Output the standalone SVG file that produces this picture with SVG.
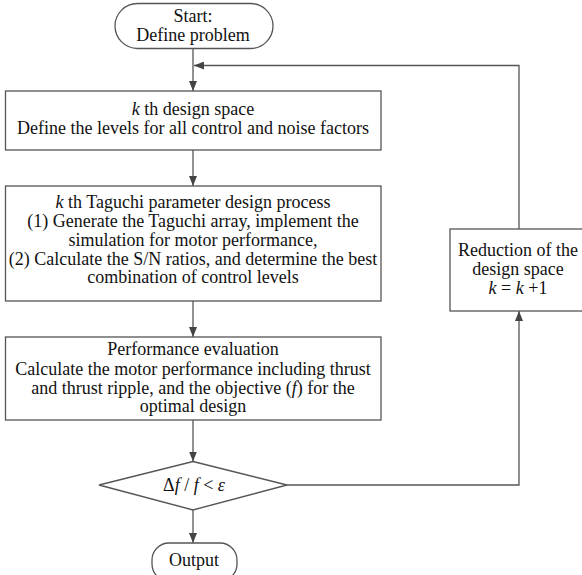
<svg xmlns="http://www.w3.org/2000/svg" width="582" height="575" viewBox="0 0 582 575" font-family="'Liberation Serif', 'DejaVu Serif', serif">
<style>
.s{fill:#fff;stroke:#555;stroke-width:1.3}
.c{fill:none;stroke:#555;stroke-width:1.3}
text{font-family:'Liberation Serif','DejaVu Serif',serif;font-size:18px;fill:#111;text-anchor:middle}
.i{font-style:italic}
</style>
<defs>
<marker id="ah" viewBox="0 0 10 8" refX="10" refY="4" markerWidth="10" markerHeight="8" markerUnits="userSpaceOnUse" orient="auto">
<path d="M0,0 L10,4 L0,8 Z" fill="#444"/>
</marker>
</defs>
<g id="connectors">
<line class="c" x1="193" y1="48" x2="193" y2="91" marker-end="url(#ah)"/>
<polyline class="c" points="519,229 519,65.5 194,65.5" marker-end="url(#ah)"/>
<line class="c" x1="193" y1="150" x2="193" y2="186" marker-end="url(#ah)"/>
<line class="c" x1="193" y1="301" x2="193" y2="337" marker-end="url(#ah)"/>
<line class="c" x1="193" y1="420" x2="193" y2="461.5" marker-end="url(#ah)"/>
<line class="c" x1="193" y1="510" x2="193" y2="543" marker-end="url(#ah)"/>
<polyline class="c" points="287,485 519,485 519,311" marker-end="url(#ah)"/>
</g>
<g id="start">
<rect class="s" x="115" y="3.5" width="158" height="45" rx="22.5"/>
<text x="193" y="22">Start:</text>
<text x="193" y="40.5">Define problem</text>
</g>
<g id="design-space">
<rect class="s" x="5.5" y="91" width="375.5" height="59"/>
<text x="193" y="115"><tspan class="i">k</tspan> th design space</text>
<text x="193" y="134">Define the levels for all control and noise factors</text>
</g>
<g id="taguchi">
<rect class="s" x="5.5" y="186" width="375.5" height="115"/>
<text x="193" y="208"><tspan class="i">k</tspan> th Taguchi parameter design process</text>
<text x="193" y="227">(1) Generate the Taguchi array, implement the</text>
<text x="193" y="245.5">simulation for motor performance,</text>
<text x="193" y="264.5">(2) Calculate the S/N ratios, and determine the best</text>
<text x="193" y="283">combination of control levels</text>
</g>
<g id="evaluation">
<rect class="s" x="5.5" y="337" width="375.5" height="83"/>
<text x="193" y="355">Performance evaluation</text>
<text x="193" y="374.5">Calculate the motor performance including thrust</text>
<text x="193" y="393.5">and thrust ripple, and the objective (<tspan class="i">f</tspan>) for the</text>
<text x="193" y="412">optimal design</text>
</g>
<g id="decision">
<polygon class="s" points="193,461.5 287,485 193,510 99,485"/>
<text x="194" y="491">Δ<tspan class="i">f</tspan> / <tspan class="i">f</tspan> &lt; <tspan class="i">ε</tspan></text>
</g>
<g id="output">
<rect class="s" x="152" y="543" width="85" height="38" rx="17"/>
<text x="194" y="566">Output</text>
</g>
<g id="reduction">
<rect class="s" x="450" y="229" width="150" height="82"/>
<text x="518" y="256">Reduction of the</text>
<text x="518" y="275">design space</text>
<text x="518" y="294"><tspan class="i">k</tspan> = <tspan class="i">k</tspan> +1</text>
</g>
</svg>
